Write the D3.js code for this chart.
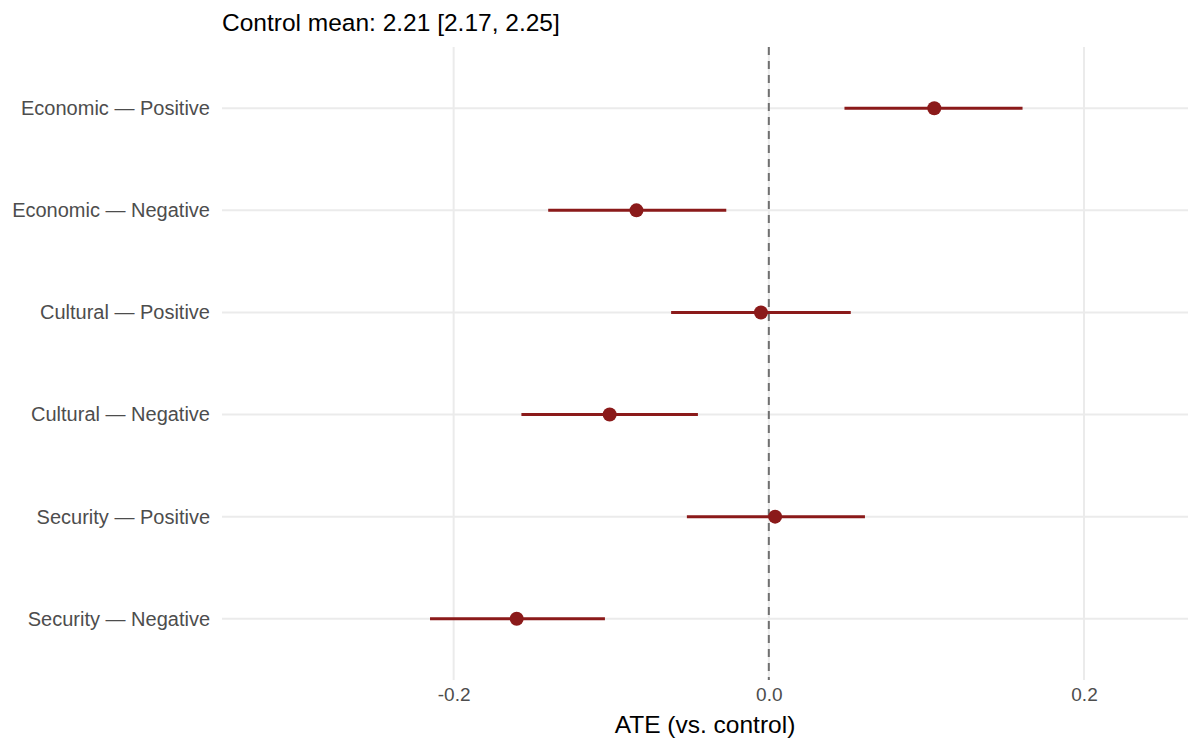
<!DOCTYPE html>
<html>
<head>
<meta charset="utf-8">
<script src="https://cdn.jsdelivr.net/npm/d3@7"></script>
<style>
  html, body { margin: 0; padding: 0; background: #ffffff; }
  svg { display: block; font-family: "Liberation Sans", Arial, Helvetica, sans-serif; }
</style>
</head>
<body>
<svg id="chart" width="1200" height="750"></svg>
<script>
const categories = [
  "Economic — Positive",
  "Economic — Negative",
  "Cultural — Positive",
  "Cultural — Negative",
  "Security — Positive",
  "Security — Negative"
];
const estimates = [0.105, -0.084, -0.005, -0.101, 0.004, -0.160];
const ciLow     = [0.048, -0.140, -0.062, -0.157, -0.052, -0.215];
const ciHigh    = [0.161, -0.027, 0.052, -0.045, 0.061, -0.104];
const xTicks = [-0.2, 0.0, 0.2];
const xTickLabels = ["-0.2", "0.0", "0.2"];
const titleText = "Control mean: 2.21 [2.17, 2.25]";
const xLabel = "ATE (vs. control)";

const data = categories.map((c, i) => ({ cat: c, est: estimates[i], lo: ciLow[i], hi: ciHigh[i] }));

const svg = d3.select("#chart");
const margin = { left: 222, right: 12, top: 47, bottom: 70 };
const W = 1200, H = 750;
const plotW = W - margin.left - margin.right;
const plotH = H - margin.top - margin.bottom;

const x = d3.scaleLinear().domain([-0.347, 0.266]).range([margin.left, margin.left + plotW]);
const y = d3.scalePoint().domain(categories).range([margin.top, margin.top + plotH]).padding(0.6);

const g = svg.append("g");

// horizontal gridlines
g.selectAll("line.hgrid").data(categories).join("line")
  .attr("class", "hgrid")
  .attr("x1", margin.left).attr("x2", margin.left + plotW)
  .attr("y1", d => y(d)).attr("y2", d => y(d))
  .attr("stroke", "#ebebeb").attr("stroke-width", 2);

// vertical gridlines
g.selectAll("line.vgrid").data(xTicks).join("line")
  .attr("class", "vgrid")
  .attr("x1", d => x(d)).attr("x2", d => x(d))
  .attr("y1", margin.top).attr("y2", margin.top + plotH)
  .attr("stroke", "#ebebeb").attr("stroke-width", 2);

// zero reference
g.append("line")
  .attr("x1", x(0)).attr("x2", x(0))
  .attr("y1", margin.top).attr("y2", margin.top + plotH)
  .attr("stroke", "#707070").attr("stroke-width", 2)
  .attr("stroke-dasharray", "8,6");

// CI lines
g.selectAll("line.ci").data(data).join("line")
  .attr("class", "ci")
  .attr("x1", d => x(d.lo)).attr("x2", d => x(d.hi))
  .attr("y1", d => y(d.cat)).attr("y2", d => y(d.cat))
  .attr("stroke", "#8b1a1a").attr("stroke-width", 3);

// points
g.selectAll("circle.pt").data(data).join("circle")
  .attr("class", "pt")
  .attr("cx", d => x(d.est)).attr("cy", d => y(d.cat))
  .attr("r", 7).attr("fill", "#8b1a1a");

// y axis labels
const yAxis = d3.axisLeft(y).tickSize(0).tickPadding(12);
const ya = svg.append("g").attr("transform", `translate(${margin.left},0)`).call(yAxis);
ya.select(".domain").remove();
ya.selectAll("text").attr("font-size", 20).attr("fill", "#4d4d4d")
  .style("font-family", "'Liberation Sans', Arial, sans-serif");

// x axis labels
const xAxis = d3.axisBottom(x).tickValues(xTicks)
  .tickFormat((d, i) => xTickLabels[i]).tickSize(0).tickPadding(8);
const xa = svg.append("g").attr("transform", `translate(0,${margin.top + plotH})`).call(xAxis);
xa.select(".domain").remove();
xa.selectAll("text").attr("font-size", 19).attr("fill", "#4d4d4d")
  .style("font-family", "'Liberation Sans', Arial, sans-serif");

// x axis title
svg.append("text")
  .attr("x", margin.left + plotW / 2).attr("y", 733)
  .attr("text-anchor", "middle").attr("font-size", 24.5).attr("fill", "#000")
  .text(xLabel);

// title
svg.append("text")
  .attr("x", margin.left).attr("y", 31)
  .attr("font-size", 24.5).attr("fill", "#000")
  .text(titleText);
</script>
</body>
</html>
